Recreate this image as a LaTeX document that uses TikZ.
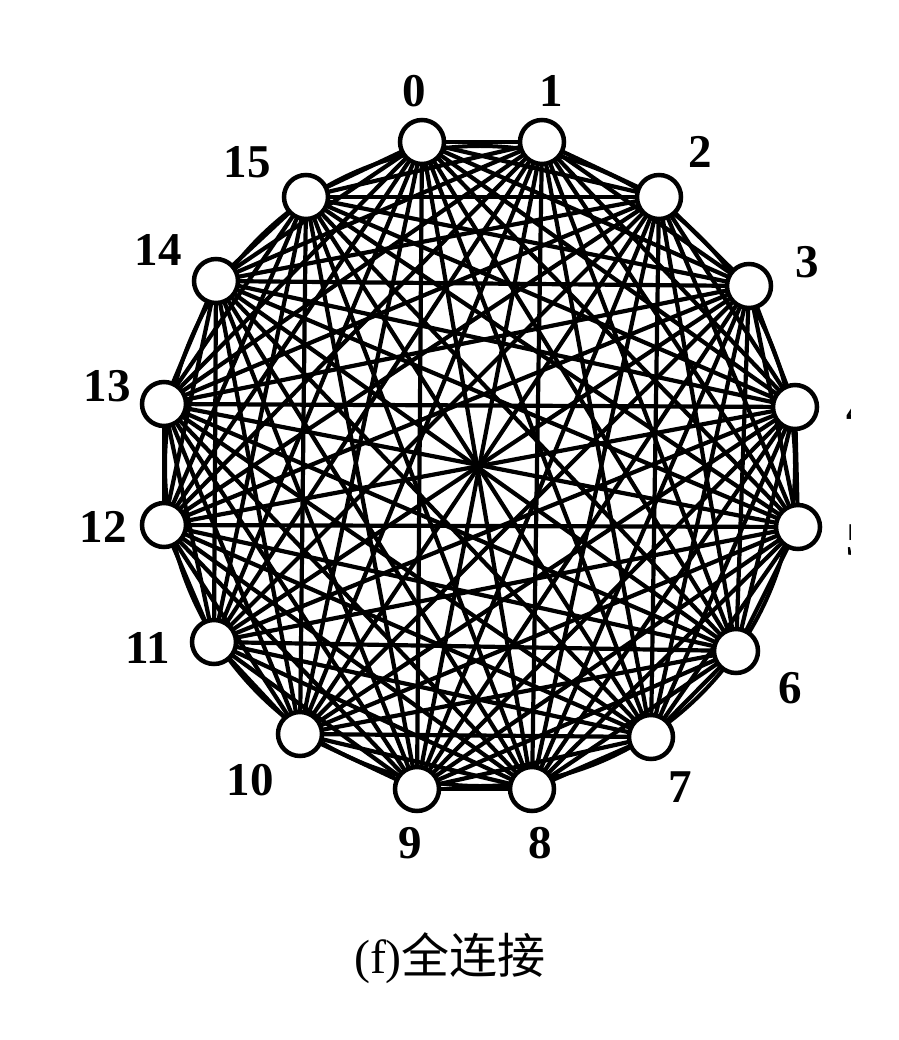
\documentclass[tikz,border=0pt]{standalone}
\usepackage{fontspec}
\setmainfont{Liberation Serif}
\newfontfamily\cjk{Noto Sans CJK SC}
\usetikzlibrary{backgrounds,shapes.geometric}
\begin{document}
\begin{tikzpicture}[x=1pt,y=-1pt,
  vertex/.style={circle,draw=black,fill=white,line width=4.5pt,minimum size=44pt,inner sep=0pt},
  lab/.style={font=\fontsize{47}{50}\selectfont\bfseries,inner sep=0pt},
  link/.style={line width=4.2pt},
  ring/.style={line width=4pt}]
\useasboundingbox (0,0) rectangle (898,1040);
% vertices
\foreach \i/\x/\y in {0/422/142, 1/542/142, 2/659/197, 3/749/286, 4/795/407, 5/798/527,
  6/736/651, 7/651/737, 8/532/789, 9/417/789, 10/300/734, 11/214/642, 12/164/525,
  13/164/404, 14/216/281, 15/306/197}
  \node[vertex] (v\i) at (\x,\y) {};
% labels
\foreach \i/\x/\y in {0/414/91, 1/551/91, 2/700/152, 3/807/262, 6/790/688, 7/680/787,
  8/540/843, 9/410/843, 10/250/780, 11/148/648, 12/103/527, 13/107/386, 14/158/250, 15/247/162}
  \node[lab] (l\i) at (\x,\y) {\i};
\begin{scope}
  \clip (0,0) rectangle (850,1040);
  \node[lab] (l4) at (858,410) {4};
  \node[lab] (l5) at (858,540) {5};
\end{scope}
% edges
\begin{scope}[on background layer]
  \fill[white] (0,0) rectangle (898,1040);
  \node[ring,draw,ellipse,minimum width=630pt,minimum height=640pt,inner sep=0pt] (rim) at (480,466) {};
  \foreach \i in {0,...,14} {
    \pgfmathtruncatemacro\k{\i+1}
    \foreach \j in {\k,...,15}
      \draw[link] (v\i.center) -- (v\j.center);
  }
\end{scope}
% caption
\node[inner sep=0pt] (cap) at (450,958) {\fontsize{48}{52}\selectfont (f)\cjk 全连接};
\end{tikzpicture}
\end{document}
